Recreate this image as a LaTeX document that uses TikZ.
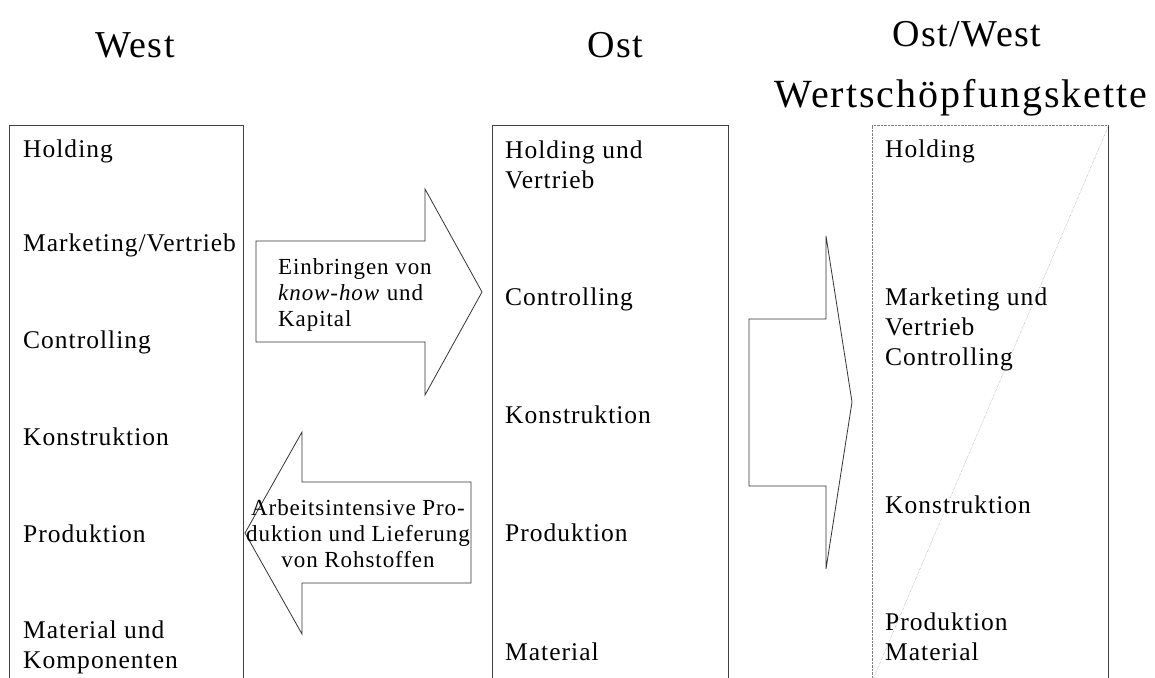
\documentclass[tikz,border=0pt]{standalone}
\usepackage{fontspec}
\setmainfont{Liberation Serif}[LetterSpace=4]
\usetikzlibrary{positioning}

\begin{document}
\begin{tikzpicture}[
    x=1pt, y=-1pt,
    column/.style={draw=black!75, line width=0.8pt, minimum width=#1,
                   minimum height=556pt, inner sep=0pt, anchor=north west},
    column/.default=235pt,
    item/.style={anchor=base west, inner sep=0pt, align=left,
                 font=\fontsize{25.5}{30}\selectfont},
    title/.style={anchor=base, inner sep=0pt, font=\fontsize{38}{38}\selectfont},
    blockarrow/.style={draw=black!80, line width=0.8pt, line join=miter},
    arrowtext/.style={inner sep=0pt, font=\fontsize{23}{26}\selectfont},
  ]
  \useasboundingbox (0,0) rectangle (1155,677);

  % Titles
  \node[title] (twest) at (135,57) {West};
  \node[title] (tost) at (615,57) {Ost};
  \node[title] (tow) at (967,46) {Ost/West};
  \node[title] (tkette) at (961,107)
    {\fontsize{40}{40}\selectfont\addfontfeature{LetterSpace=5}Wertschöpfungskette};

  % Columns
  \node[column=234pt] (west) at (9,125) {};
  \node[column=236pt] (ost) at (492,125) {};
  \node[column=236pt, draw=none] (ostwest) at (872,125) {};
  \draw[densely dotted, gray] (ostwest.south west) -- (ostwest.north west) -- (ostwest.north east);
  \draw[black!75, line width=0.8pt] (ostwest.north east) -- (ostwest.south east);
  \draw[densely dotted, gray] (ostwest.north east) -- (ostwest.south west);

  % West (multi-line nodes sit on their last line)
  \node[item] (w1) at (23,157) {Holding};
  \node[item] (w2) at (23,251) {Marketing/Vertrieb};
  \node[item] (w3) at (23,348) {Controlling};
  \node[item] (w4) at (23,445) {Konstruktion};
  \node[item] (w5) at (23,542) {Produktion};
  \node[item] (w6) at (23,668) {Material und\\Komponenten};

  % Ost
  \node[item] (o1) at (505,188) {Holding und\\Vertrieb};
  \node[item] (o2) at (505,305) {Controlling};
  \node[item] (o3) at (505,423) {Konstruktion};
  \node[item] (o4) at (505,541) {Produktion};
  \node[item] (o5) at (505,660) {Material};

  % Ost/West
  \node[item] (ow1) at (885,157) {Holding};
  \node[item] (ow2) at (885,365) {Marketing und\\Vertrieb\\Controlling};
  \node[item] (ow3) at (885,513) {Konstruktion};
  \node[item] (ow4) at (885,660) {Produktion\\Material};

  % Block arrows
  \draw[blockarrow] (256,241) -- (425,241) -- (425,189) -- (482,292)
    -- (425,395) -- (425,342) -- (256,342) -- cycle;
  \node[arrowtext, anchor=base west, align=left] (knowhow) at (278,326)
    {Einbringen von\\\textit{know-how} und\\Kapital};

  \draw[blockarrow] (471,482) -- (302,482) -- (302,432) -- (245,533)
    -- (302,634) -- (302,583) -- (471,583) -- cycle;
  \node[arrowtext, anchor=base, align=center] (labour) at (358,567)
    {Arbeitsintensive Pro-\\duktion und Lieferung\\von Rohstoffen};

  \draw[blockarrow] (749,319) -- (826,319) -- (826,236) -- (852,402)
    -- (826,569) -- (826,486) -- (749,486) -- cycle;

\end{tikzpicture}
\end{document}
